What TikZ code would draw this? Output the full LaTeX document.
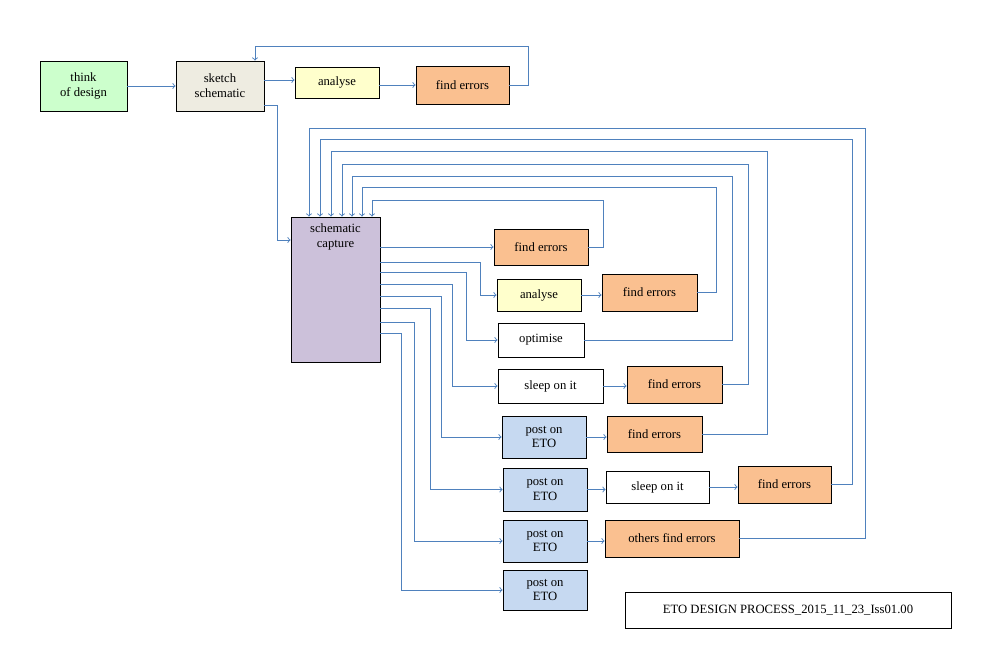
\documentclass[tikz,border=0pt]{standalone}
\usepackage{fontspec}
\setmainfont{Liberation Serif}
\usetikzlibrary{arrows}
\definecolor{linkblue}{HTML}{4F81BD}
\definecolor{greenfill}{HTML}{CCFFCC}
\definecolor{sketchfill}{HTML}{EEECE1}
\definecolor{yellowfill}{HTML}{FFFFCC}
\definecolor{orangefill}{HTML}{FAC090}
\definecolor{capfill}{HTML}{CCC1DA}
\definecolor{postfill}{HTML}{C6D9F1}
\tikzset{
  box/.style={draw, line width=0.6pt, align=center, inner sep=1pt,
    font=\fontsize{9.5}{11}\selectfont},
  link/.style={draw=linkblue, line width=0.7pt, -to}
}
\begin{document}
\begin{tikzpicture}[x=0.75pt,y=-0.75pt]
  \useasboundingbox (0,0) rectangle (986,663);
  % top row
  \node [box,fill=greenfill,minimum width=65.25pt,minimum height=37.5pt] (think) at (83.5,86) {think\\of design};
  \node [box,fill=sketchfill,minimum width=66pt,minimum height=37.5pt] (sketch) at (220,86) {sketch\\schematic};
  \node [box,fill=yellowfill,minimum width=63pt,minimum height=23.25pt] (anaT) at (337,82.5) {analyse};
  \node [box,fill=orangefill,minimum width=69.75pt,minimum height=28.5pt] (errT) at (462.5,85) {find errors};
  % capture block
  \node [box,fill=capfill,minimum width=66.75pt,minimum height=108.75pt,
    label={[anchor=north,font=\fontsize{9.5}{11}\selectfont,align=center,yshift=-2pt]north:schematic\\capture}] (cap) at (335.5,289.5) {};
  % branches
  \node [box,fill=orangefill,minimum width=70.5pt,minimum height=27pt] (errA) at (541,247) {find errors};
  \node [box,fill=yellowfill,minimum width=63pt,minimum height=24pt] (anaA) at (539,295) {analyse};
  \node [box,fill=orangefill,minimum width=71.25pt,minimum height=27.75pt] (errB) at (649.5,292.5) {find errors};
  \node [box,minimum width=64.5pt,minimum height=25.5pt] (opt) at (541,340) {optimise};
  \node [box,minimum width=78.75pt,minimum height=25.5pt] (sleepA) at (550.5,386) {sleep on it};
  \node [box,fill=orangefill,minimum width=71.25pt,minimum height=27.75pt] (errC) at (674.5,384.5) {find errors};
  \node [box,fill=postfill,minimum width=63pt,minimum height=31.5pt] (postA) at (544,437) {post on\\ETO};
  \node [box,fill=orangefill,minimum width=71.25pt,minimum height=27pt] (errD) at (654.5,434) {find errors};
  \node [box,fill=postfill,minimum width=63pt,minimum height=32.25pt] (postB) at (545,489.5) {post on\\ETO};
  \node [box,minimum width=77.25pt,minimum height=24pt] (sleepB) at (657.5,487) {sleep on it};
  \node [box,fill=orangefill,minimum width=69.75pt,minimum height=27.75pt] (errE) at (784.5,484.5) {find errors};
  \node [box,fill=postfill,minimum width=63pt,minimum height=31.5pt] (postC) at (545,541) {post on\\ETO};
  \node [box,fill=orangefill,minimum width=100.5pt,minimum height=27.75pt] (others) at (672,538.5) {others find errors};
  \node [box,fill=postfill,minimum width=63pt,minimum height=30pt] (postD) at (545,590) {post on\\ETO};
  \node [box,minimum width=244.5pt,minimum height=27pt] (title) at (788,610) {ETO DESIGN PROCESS\_2015\_11\_23\_Iss01.00};

  \draw [link] (think) -- (sketch);
  \draw [link] (sketch.east |- 0,80) -- (anaT.west |- 0,80);
  \draw [link] (anaT.east |- 0,85) -- (errT.west |- 0,85);
  \draw [link] (errT.east) -| (528,46) -| (sketch.north -| 255,0);
  \draw [link] (sketch.east |- 0,105) -| (277,240) -- (cap.west |- 0,240);
  \draw [link] (cap.east |- errA) -- (errA);
  \foreach \y/\x/\t in {262/480/anaA, 272/466/opt, 284/452/sleepA, 296/441/postA,
                        308/430/postB, 322/414/postC, 333/401/postD}
    \draw [link] (cap.east |- 0,\y) -| (\x,0 |- \t) -- (\t);
  \draw [link] (anaA) -- (errB.west |- anaA);
  \draw [link] (sleepA) -- (errC.west |- sleepA);
  \draw [link] (postA) -- (errD.west |- postA);
  \draw [link] (postB) -- (sleepB.west |- postB);
  \draw [link] (sleepB) -- (errE.west |- sleepB);
  \draw [link] (postC) -- (others.west |- postC);
  % feedback loops
  \foreach \s/\x/\y/\a in {errA/603/200/372, errB/716/187/362, opt/732/176/352,
                           errC/748/164/342, errD/767/151/331, errE/852/139/320,
                           others/865/128/309}
    \draw [link] (\s.east) -| (\x,\y) -| (cap.north -| \a,0);
\end{tikzpicture}
\end{document}
